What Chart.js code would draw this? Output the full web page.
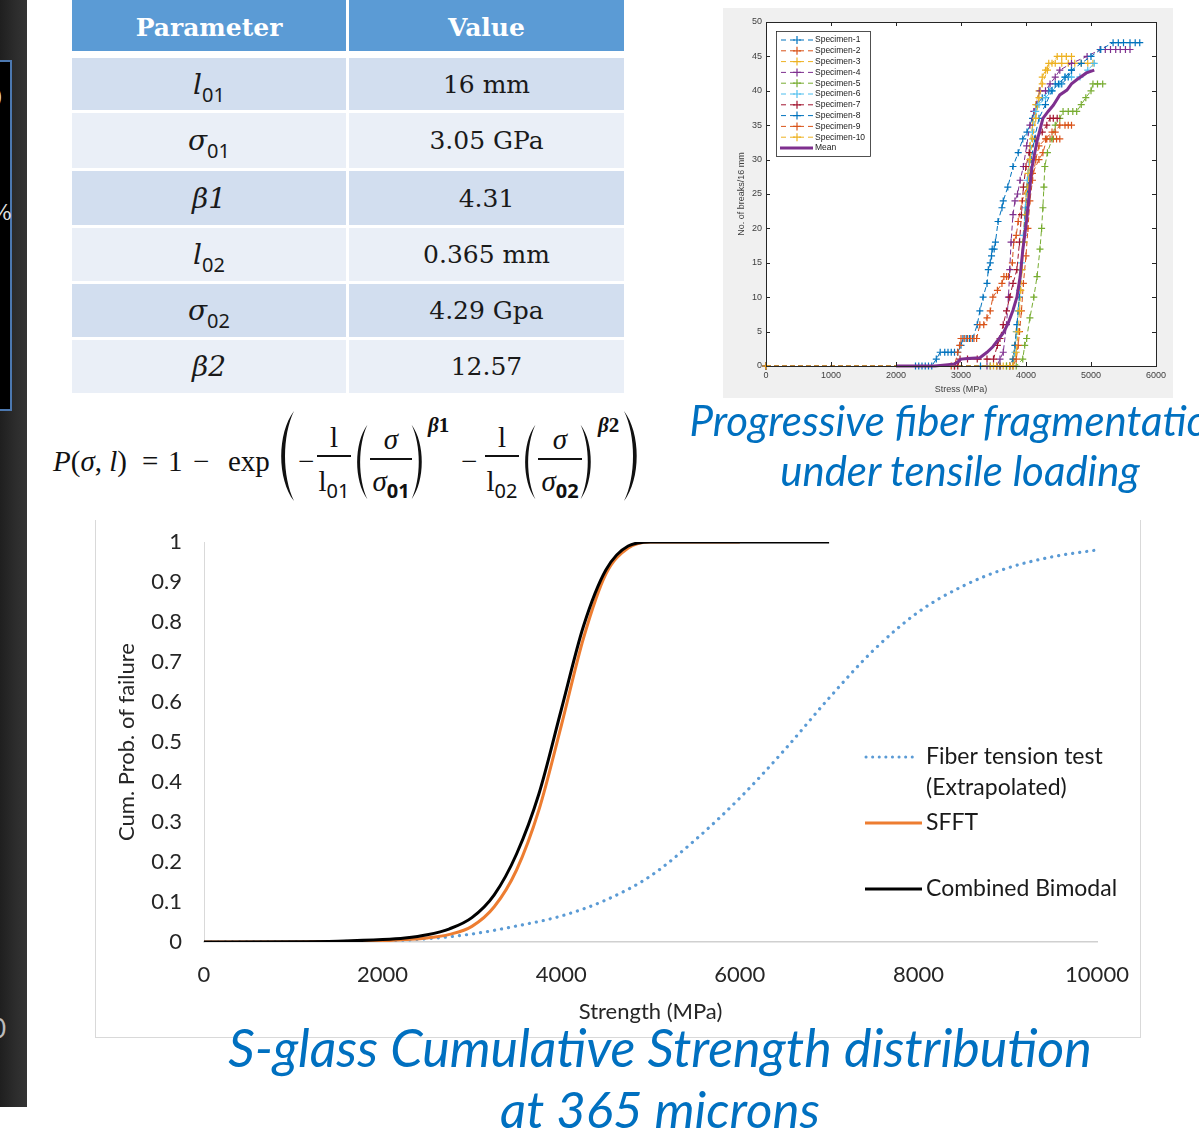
<!DOCTYPE html>
<html>
<head>
<meta charset="utf-8">
<script src="https://cdn.jsdelivr.net/npm/chart.js@4.4.1/dist/chart.umd.min.js"></script>
<style>
html, body { margin: 0; padding: 0; background: #fff; }
body { width: 1199px; height: 1143px; position: relative; overflow: hidden; font-family: Lato, sans-serif; }
.abs { position: absolute; }
#strip { left: 0; top: 0; width: 27px; height: 1107px; background: linear-gradient(to right, #1f1f1f 0, #2c2c2c 55%, #343434 100%); }
#stripBox { left: 0; top: 60px; width: 10px; height: 347px; background: #000; border: 2px solid #4c78b0; border-left: none; }
.cell { position: absolute; display: flex; align-items: center; justify-content: center; }
.hd { background: #5B9BD5; color: #fff; font: bold 25px "DejaVu Serif", serif; padding-top: 4px; box-sizing: border-box; }
.dk { background: #D2DEEF; }
.lt { background: #EAEFF7; }
.val { font: 25px "DejaVu Serif", serif; color: #1a1a1a; }
.par { font: italic 28px "DejaVu Serif", serif; color: #1a1a1a; }
.par sub { font-style: normal; font-size: 20px; vertical-align: -8px; font-family: "Noto Sans", sans-serif; line-height: 0; }
.eq { position: absolute; font-family: "Liberation Serif", serif; font-size: 29px; line-height: 30px; color: #111; white-space: nowrap; }
.frac { position: absolute; text-align: center; font-family: "Liberation Serif", serif; font-size: 29px; line-height: 30px; color: #111; }
.frac sub { font-size: 20px; vertical-align: -7px; font-family: "Noto Sans", sans-serif; line-height: 0; }
.bar { position: absolute; height: 1.6px; background: #111; }
.title { position: absolute; color: #0070C0; font-style: italic; font-family: Lato, sans-serif; text-align: center; white-space: nowrap; }
</style>
</head>
<body>

<div id="strip" class="abs"></div>
<div id="stripBox" class="abs"></div>
<div class="abs" style="left:-6px;top:84px;color:#ddd;font:22px 'DejaVu Serif',serif;">)</div>
<div class="abs" style="left:-9px;top:200px;color:#ddd;font:22px 'DejaVu Serif',serif;">%</div>
<div class="abs" style="left:-9px;top:1012px;color:#bbb;font:26px Lato,sans-serif;">0</div>

<div id="table"></div>

<!-- equation -->
<div class="eq" style="left:53px;top:446px;"><i>P</i>(<i>σ</i>, <i>l</i>)</div>
<div class="eq" style="left:142px;top:446px;">=</div>
<div class="eq" style="left:168px;top:446px;">1</div>
<div class="eq" style="left:193px;top:446px;">−</div>
<div class="eq" style="left:228px;top:446px;">exp</div>
<svg class="abs" style="left:276px;top:410px" width="20" height="92" viewBox="0 0 20 100" preserveAspectRatio="none"><path d="M18 1 C1 25 1 75 18 99 C6 72 6 28 18 1Z" fill="#111"/></svg>
<div class="eq" style="left:298px;top:446px;">−</div>
<div class="frac" style="left:317px;top:422px;width:34px;">l</div>
<div class="bar" style="left:317px;top:455px;width:34px;"></div>
<div class="frac" style="left:317px;top:466px;width:34px;">l<sub>01</sub></div>
<svg class="abs" style="left:353px;top:424px" width="16" height="76" viewBox="0 0 20 100" preserveAspectRatio="none"><path d="M18 1 C1 25 1 75 18 99 C6 72 6 28 18 1Z" fill="#111"/></svg>
<div class="frac" style="left:370px;top:424px;width:42px;"><i>σ</i></div>
<div class="bar" style="left:370px;top:458px;width:42px;"></div>
<div class="frac" style="left:370px;top:466px;width:42px;"><i>σ</i><sub style="font-weight:bold">01</sub></div>
<svg class="abs" style="left:410px;top:424px" width="16" height="76" viewBox="0 0 20 100" preserveAspectRatio="none"><path d="M2 1 C19 25 19 75 2 99 C14 72 14 28 2 1Z" fill="#111"/></svg>
<div class="eq" style="left:428px;top:410px;font-size:21px;font-weight:bold;"><i>β</i>1</div>
<div class="eq" style="left:461px;top:446px;">−</div>
<div class="frac" style="left:485px;top:422px;width:34px;">l</div>
<div class="bar" style="left:485px;top:455px;width:34px;"></div>
<div class="frac" style="left:485px;top:466px;width:34px;">l<sub>02</sub></div>
<svg class="abs" style="left:521px;top:424px" width="16" height="76" viewBox="0 0 20 100" preserveAspectRatio="none"><path d="M18 1 C1 25 1 75 18 99 C6 72 6 28 18 1Z" fill="#111"/></svg>
<div class="frac" style="left:538px;top:424px;width:44px;"><i>σ</i></div>
<div class="bar" style="left:538px;top:458px;width:44px;"></div>
<div class="frac" style="left:538px;top:466px;width:44px;"><i>σ</i><sub style="font-weight:bold">02</sub></div>
<svg class="abs" style="left:579px;top:424px" width="16" height="76" viewBox="0 0 20 100" preserveAspectRatio="none"><path d="M2 1 C19 25 19 75 2 99 C14 72 14 28 2 1Z" fill="#111"/></svg>
<div class="eq" style="left:598px;top:410px;font-size:21px;font-weight:bold;"><i>β</i>2</div>
<svg class="abs" style="left:622px;top:410px" width="20" height="92" viewBox="0 0 20 100" preserveAspectRatio="none"><path d="M2 1 C19 25 19 75 2 99 C14 72 14 28 2 1Z" fill="#111"/></svg>

<!-- fragmentation chart -->
<canvas id="fragChart" width="450" height="390" style="position:absolute;left:723px;top:8px;"></canvas>
<div class="title" style="left:560px;top:395px;width:800px;font-size:42px;line-height:50px;">Progressive fiber fragmentation</div>
<div class="title" style="left:560px;top:445px;width:800px;font-size:42px;line-height:50px;">under tensile loading</div>

<!-- main chart -->
<div class="abs" style="left:95px;top:520px;width:1046px;height:518px;box-sizing:border-box;border:1px solid #d9d9d9;border-top:none;"></div>
<canvas id="mainChart" width="1043" height="515" style="position:absolute;left:96px;top:521px;"></canvas>
<div class="title" style="left:160px;top:1016px;width:1000px;font-size:52px;line-height:62px;">S-glass Cumulative Strength distribution</div>
<div class="title" style="left:160px;top:1078px;width:1000px;font-size:51px;line-height:62px;">at 365 microns</div>

<script>
// Table
const paramSymbols = ['<i>l</i><sub>01</sub>', '<i>σ</i><sub>01</sub>', '<i>β</i>1', '<i>l</i><sub>02</sub>', '<i>σ</i><sub>02</sub>', '<i>β</i>2'];
const paramValues = ['16 mm', '3.05 GPa', '4.31', '0.365 mm', '4.29 Gpa', '12.57'];
const rowTops = [58, 113, 171, 228, 284, 340];
const rowHeights = [52, 55, 54, 53, 53, 53];

let tableHtml = '<div class="cell hd" style="left:72px;top:0;width:274px;height:51px;">Parameter</div>' +
    '<div class="cell hd" style="left:349px;top:0;width:275px;height:51px;">Value</div>';
paramSymbols.forEach((p, i) => {
    const cls = i % 2 === 0 ? 'dk' : 'lt';
    tableHtml += '<div class="cell par ' + cls + '" style="left:72px;top:' + rowTops[i] + 'px;width:274px;height:' + rowHeights[i] + 'px;"><span>' + p + '</span></div>';
    tableHtml += '<div class="cell val ' + cls + '" style="left:349px;top:' + rowTops[i] + 'px;width:275px;height:' + rowHeights[i] + 'px;"><span>' + paramValues[i] + '</span></div>';
});
document.getElementById('table').innerHTML = tableHtml;

// Main chart data (Strength MPa, cumulative probability)
const fiberStrength = [0, 1000, 2000, 2500, 3000, 3500, 4000, 4500, 5000, 5500, 6000, 6500, 7000, 7500, 8000, 8500, 9000, 9500, 10000];
const fiberProb = [0, 0.0005, 0.003, 0.008, 0.02, 0.04, 0.065, 0.105, 0.165, 0.255, 0.36, 0.48, 0.61, 0.73, 0.825, 0.89, 0.935, 0.963, 0.98];
const sfftStrength = [0, 1000, 1500, 2000, 2250, 2500, 2750, 3000, 3250, 3500, 3750, 4000, 4250, 4500, 4750, 5000, 5500, 6000];
const sfftProb = [0, 0.0002, 0.001, 0.003, 0.006, 0.01, 0.019, 0.039, 0.088, 0.18, 0.33, 0.54, 0.76, 0.92, 0.985, 1, 1, 1];
const combStrength = [0, 1000, 1500, 2000, 2250, 2500, 2750, 3000, 3250, 3500, 3750, 4000, 4250, 4500, 4750, 5000, 5500, 6000, 6500, 7000];
const combProb = [0, 0.0005, 0.002, 0.006, 0.01, 0.018, 0.033, 0.061, 0.118, 0.22, 0.37, 0.58, 0.79, 0.93, 0.99, 1, 1, 1, 1, 1];
const xTickLabels = ['0', '2000', '4000', '6000', '8000', '10000'];
const yTickLabels = ['0', '0.1', '0.2', '0.3', '0.4', '0.5', '0.6', '0.7', '0.8', '0.9', '1'];

// Fragmentation data: [stress MPa, no. of breaks]
const specimen1 = [[0,0],[2300,0],[2350,0],[2400,0],[2450,0],[2500,0],[2550,0],[2620,1],[2680,2],[2750,2],[2800,2],[2850,2],[2900,2],[2950,2],[3000,3],[3030,4],[3080,4],[3130,4],[3180,4],[3250,6],[3290,8],[3340,10],[3400,12],[3420,14],[3450,15],[3470,16],[3480,17],[3510,17],[3530,18],[3570,21],[3630,23],[3650,24],[3720,26],[3800,29],[3880,31],[3950,33],[4015,34],[4100,36],[4170,38],[4250,39],[4350,40],[4450,41],[4550,41],[4650,42],[4700,43]];
const specimen2 = [[0,0],[2850,0],[2900,0],[2950,2],[2980,3],[3000,4],[3050,4],[3100,4],[3150,4],[3200,4],[3240,4],[3290,6],[3350,6],[3400,7],[3450,8],[3490,10],[3560,11],[3630,12],[3660,13],[3700,13],[3730,13],[3790,15],[3810,18],[3850,19],[3880,21],[3940,24],[4010,26],[4100,28],[4200,30],[4260,31],[4320,33],[4370,33],[4420,33],[4470,33],[4520,33]];
const specimen3 = [[0,0],[3500,0],[3600,0],[3700,0],[3750,0],[3800,1],[3830,3],[3850,5],[3880,8],[3900,11],[3920,14],[3950,18],[3980,22],[4000,25],[4030,28],[4060,32],[4100,35],[4150,38],[4200,40],[4250,42],[4300,43],[4350,44],[4450,44],[4550,44],[4650,44],[4750,44],[4850,44],[4950,44],[5030,44]];
const specimen4 = [[0,0],[3400,0],[3550,0],[3600,1],[3650,2],[3700,6],[3730,10],[3750,14],[3770,18],[3800,22],[3830,24],[3870,25],[3910,27],[3960,29],[4010,32],[4060,35],[4120,37],[4215,40],[4300,40],[4370,41],[4450,42],[4520,43],[4700,44],[4940,45],[5140,46],[5220,46],[5300,46],[5380,46],[5450,46],[5530,46],[5600,46]];
const specimen5 = [[0,0],[3700,0],[3850,0],[3950,1],[3980,3],[4010,4],[4060,7],[4120,10],[4170,13],[4215,17],[4240,20],[4260,23],[4275,26],[4290,29],[4330,31],[4400,33],[4450,35],[4520,36],[4570,37],[4650,37],[4720,37],[4780,37],[4850,38],[4920,39],[5000,40],[5030,41],[5100,41],[5180,41]];
const specimen6 = [[0,0],[3600,0],[3750,0],[3800,0],[3830,2],[3860,5],[3880,8],[3900,11],[3930,15],[3960,19],[3990,23],[4020,27],[4060,31],[4100,34],[4150,37],[4200,38],[4300,39],[4400,40],[4520,41],[4600,42],[4700,42],[4830,42],[4950,43],[5050,44]];
const specimen7 = [[0,0],[2900,0],[2950,0],[2985,1],[3100,1],[3250,1],[3400,1],[3500,1],[3560,3],[3600,4],[3650,6],[3700,8],[3750,10],[3800,12],[3860,14],[3900,18],[3930,22],[3960,26],[4000,29],[4050,31],[4150,33],[4250,34],[4320,35],[4370,36],[4420,36],[4480,36]];
const specimen8 = [[0,0],[3300,0],[3450,0],[3600,0],[3750,0],[3800,1],[3830,3],[3860,6],[3900,10],[3930,14],[3960,18],[3990,22],[4030,26],[4080,30],[4130,33],[4200,36],[4300,38],[4400,40],[4500,41],[4600,42],[4700,43],[4850,44],[5000,45],[5150,46],[5340,47],[5420,47],[5500,47],[5600,47],[5680,47],[5750,47]];
const specimen9 = [[0,0],[3600,0],[3750,0],[3800,0],[3850,1],[3880,3],[3900,5],[3930,8],[3960,12],[4000,16],[4030,20],[4060,24],[4100,27],[4150,30],[4200,32],[4300,33],[4400,34],[4450,34],[4520,35],[4600,35],[4650,35],[4700,35]];
const specimen10 = [[0,0],[3450,0],[3550,0],[3650,0],[3750,0],[3800,0],[3850,2],[3880,5],[3900,8],[3920,11],[3940,14],[3970,18],[4000,22],[4030,26],[4060,30],[4100,33],[4150,36],[4200,39],[4250,41],[4330,43],[4400,44],[4480,45],[4550,45],[4620,45],[4700,45]];
const meanBreaks = [[2000,0],[2300,0],[2600,0],[2800,0.2],[2900,0.3],[2950,0.6],[3000,1],[3100,1.1],[3290,1.2],[3400,2],[3490,2.8],[3570,3.8],[3650,4.8],[3725,6.2],[3800,8.1],[3860,10],[3910,13],[3950,16.8],[3980,19],[4010,21.2],[4045,24.5],[4090,28.8],[4170,32.7],[4260,36],[4340,37],[4420,37.9],[4520,39.4],[4630,40.1],[4700,41],[4780,41.6],[4930,42.6],[5050,43]];
const specimenNames = ['Specimen-1','Specimen-2','Specimen-3','Specimen-4','Specimen-5','Specimen-6','Specimen-7','Specimen-8','Specimen-9','Specimen-10'];
const specimenColors = ['#0072BD','#D95319','#EDB120','#7E2F8E','#77AC30','#4DBEEE','#A2142F','#0072BD','#D95319','#EDB120'];
const specimens = [specimen1, specimen2, specimen3, specimen4, specimen5, specimen6, specimen7, specimen8, specimen9, specimen10];

function toXY(xs, ys) {
    return xs.map((x, i) => ({x: x, y: ys[i]}));
}

// Fragmentation chart (MATLAB look)
const fragFrame = {
    id: 'fragFrame',
    beforeDraw(chart) {
        const {ctx, chartArea: a} = chart;
        ctx.save();
        ctx.fillStyle = '#f0f0f0';
        ctx.fillRect(0, 0, chart.width, chart.height);
        ctx.fillStyle = '#fff';
        ctx.fillRect(a.left, a.top, a.right - a.left, a.bottom - a.top);
        ctx.restore();
    },
    afterDraw(chart) {
        const {ctx, chartArea: a, scales: {x, y}} = chart;
        ctx.save();
        ctx.strokeStyle = '#262626';
        ctx.lineWidth = 1;
        ctx.strokeRect(a.left + 0.5, a.top + 0.5, a.right - a.left, a.bottom - a.top);
        ctx.beginPath();
        x.ticks.forEach(t => {
            const px = Math.round(x.getPixelForValue(t.value)) + 0.5;
            ctx.moveTo(px, a.bottom); ctx.lineTo(px, a.bottom - 4);
            ctx.moveTo(px, a.top); ctx.lineTo(px, a.top + 4);
        });
        y.ticks.forEach(t => {
            const py = Math.round(y.getPixelForValue(t.value)) + 0.5;
            ctx.moveTo(a.left, py); ctx.lineTo(a.left + 4, py);
            ctx.moveTo(a.right, py); ctx.lineTo(a.right - 4, py);
        });
        ctx.stroke();

        // legend box
        const lx = 53, ly = 23, lw = 94, lh = 125;
        ctx.fillStyle = '#fff';
        ctx.fillRect(lx, ly, lw, lh);
        ctx.lineWidth = 0.8;
        ctx.strokeRect(lx + 0.5, ly + 0.5, lw, lh);
        ctx.font = '8.5px "Liberation Sans", Arial, sans-serif';
        ctx.textBaseline = 'middle';
        chart.data.datasets.forEach((ds, i) => {
            const yy = ly + 9 + i * 10.8;
            ctx.strokeStyle = ds.borderColor;
            if (ds.label === 'Mean') {
                ctx.lineWidth = 3;
                ctx.setLineDash([]);
                ctx.beginPath(); ctx.moveTo(lx + 4, yy); ctx.lineTo(lx + 37, yy); ctx.stroke();
            } else {
                ctx.lineWidth = 1;
                ctx.setLineDash([5, 4]);
                ctx.beginPath(); ctx.moveTo(lx + 5, yy); ctx.lineTo(lx + 37, yy); ctx.stroke();
                ctx.setLineDash([]);
                ctx.lineWidth = 1.2;
                ctx.beginPath();
                ctx.moveTo(lx + 21, yy - 4); ctx.lineTo(lx + 21, yy + 4);
                ctx.moveTo(lx + 17, yy); ctx.lineTo(lx + 25, yy);
                ctx.stroke();
            }
            ctx.fillStyle = '#1a1a1a';
            ctx.fillText(ds.label, lx + 39, yy);
        });
        ctx.restore();
    }
};

const fragDatasets = specimens.map((s, i) => ({
    label: specimenNames[i],
    data: s.map(p => ({x: p[0], y: p[1]})),
    borderColor: specimenColors[i],
    backgroundColor: specimenColors[i],
    borderWidth: 1,
    borderDash: [5, 3],
    pointStyle: 'cross',
    pointRadius: 3.5,
    pointBorderWidth: 1.2,
    pointBorderColor: specimenColors[i],
    tension: 0,
    clip: 6,
    order: 10 - i
}));
fragDatasets.push({
    label: 'Mean',
    data: meanBreaks.map(p => ({x: p[0], y: p[1]})),
    borderColor: '#7E2F8E',
    borderWidth: 3,
    pointRadius: 0,
    tension: 0,
    clip: 6,
    order: 0
});

const fragFont = {family: '"Liberation Sans", Arial, sans-serif', size: 9};
new Chart(document.getElementById('fragChart'), {
    type: 'line',
    data: {datasets: fragDatasets},
    options: {
        responsive: false,
        animation: false,
        layout: {padding: {top: 14, right: 17, left: 0, bottom: 0}},
        plugins: {legend: {display: false}, tooltip: {enabled: false}},
        scales: {
            x: {
                type: 'linear', min: 0, max: 6000,
                ticks: {stepSize: 1000, callback: v => String(v), font: fragFont, color: '#404040', padding: 4, maxRotation: 0},
                grid: {display: false, drawTicks: false},
                border: {display: false},
                title: {display: true, text: 'Stress (MPa)', font: fragFont, color: '#404040', padding: {top: 0, bottom: 3}},
                afterFit: s => { s.height = 32; }
            },
            y: {
                min: 0, max: 50,
                ticks: {stepSize: 5, callback: v => String(v), font: fragFont, color: '#404040', padding: 4},
                grid: {display: false, drawTicks: false},
                border: {display: false},
                title: {display: true, text: 'No. of breaks/16 mm', font: fragFont, color: '#404040', padding: {top: 13, bottom: 0}},
                afterFit: s => { s.width = 43; }
            }
        }
    },
    plugins: [fragFrame]
});

// Main chart legend (drawn inside the plot like the Excel original)
const mainLegend = {
    id: 'mainLegend',
    afterDraw(chart) {
        const ctx = chart.ctx;
        ctx.save();
        ctx.font = '23px Lato, sans-serif';
        ctx.fillStyle = '#1a1a1a';
        ctx.textBaseline = 'middle';
        ctx.lineCap = 'round';
        ctx.strokeStyle = '#5B9BD5';
        ctx.lineWidth = 3;
        ctx.setLineDash([0.1, 6.5]);
        ctx.beginPath(); ctx.moveTo(770, 236); ctx.lineTo(821, 236); ctx.stroke();
        ctx.setLineDash([]);
        ctx.lineCap = 'butt';
        ctx.lineWidth = 3;
        ctx.strokeStyle = '#ED7D31';
        ctx.beginPath(); ctx.moveTo(769, 302); ctx.lineTo(826, 302); ctx.stroke();
        ctx.strokeStyle = '#000';
        ctx.beginPath(); ctx.moveTo(769, 368); ctx.lineTo(826, 368); ctx.stroke();
        ctx.fillText('Fiber tension test', 830, 236);
        ctx.fillText('(Extrapolated)', 830, 267);
        ctx.fillText('SFFT', 830, 302);
        ctx.fillText('Combined Bimodal', 830, 368);
        ctx.restore();
    }
};

const mainFont = {family: 'Lato, sans-serif', size: 22};
new Chart(document.getElementById('mainChart'), {
    type: 'line',
    data: {
        datasets: [
            {
                label: 'Fiber tension test (Extrapolated)',
                data: toXY(fiberStrength, fiberProb),
                borderColor: '#5B9BD5',
                borderWidth: 3.2,
                borderDash: [0.1, 7],
                borderCapStyle: 'round',
                pointRadius: 0,
                cubicInterpolationMode: 'monotone',
                order: 3
            },
            {
                label: 'SFFT',
                data: toXY(sfftStrength, sfftProb),
                borderColor: '#ED7D31',
                borderWidth: 3,
                pointRadius: 0,
                cubicInterpolationMode: 'monotone',
                order: 2
            },
            {
                label: 'Combined Bimodal',
                data: toXY(combStrength, combProb),
                borderColor: '#000000',
                borderWidth: 3,
                pointRadius: 0,
                cubicInterpolationMode: 'monotone',
                order: 1
            }
        ]
    },
    options: {
        responsive: false,
        animation: false,
        layout: {padding: {top: 21, right: 42, left: 0, bottom: 0}},
        plugins: {legend: {display: false}, tooltip: {enabled: false}},
        scales: {
            x: {
                type: 'linear', min: 0, max: 10000,
                ticks: {stepSize: 2000, callback: (v, i) => xTickLabels[i], font: mainFont, color: '#262626', padding: 20, maxRotation: 0},
                grid: {display: false, drawTicks: false},
                border: {color: '#d0d0d0', width: 1.5},
                title: {display: true, text: 'Strength (MPa)', font: mainFont, color: '#262626', padding: {top: 0, bottom: 11}},
                afterFit: s => { s.height = 94; s.paddingLeft = 0; s.paddingRight = 0; }
            },
            y: {
                min: 0, max: 1,
                ticks: {stepSize: 0.1, callback: (v, i) => yTickLabels[i], font: mainFont, color: '#262626', padding: 22},
                grid: {display: false, drawTicks: false},
                border: {color: '#d9d9d9', width: 1},
                title: {display: true, text: 'Cum. Prob. of failure', font: mainFont, color: '#262626', padding: {top: 18, bottom: 0}},
                afterFit: s => { s.width = 108; s.paddingTop = 0; s.paddingBottom = 0; }
            }
        }
    },
    plugins: [mainLegend]
});
</script>
</body>
</html>
